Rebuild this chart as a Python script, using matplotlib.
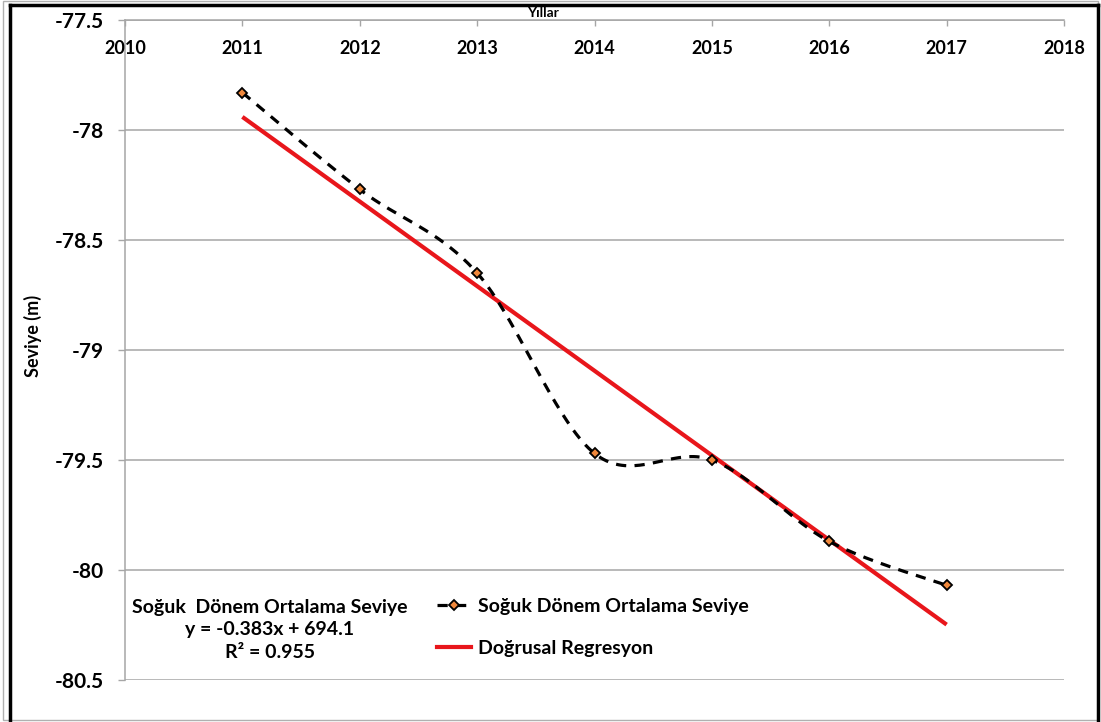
import numpy as np
import matplotlib
matplotlib.use("Agg")
import matplotlib.pyplot as plt
from matplotlib.lines import Line2D
from matplotlib.transforms import blended_transform_factory

# Cold-period mean water level by year
years = [2011, 2012, 2013, 2014, 2015, 2016, 2017]
levels = [-77.83, -78.27, -78.65, -79.47, -79.50, -79.87, -80.07]

x_ticks = [2010, 2011, 2012, 2013, 2014, 2015, 2016, 2017, 2018]
y_ticks = [-77.5, -78, -78.5, -79, -79.5, -80, -80.5]

series_label = "Soğuk Dönem Ortalama Seviye"
fit_label = "Doğrusal Regresyon"
eq_lines = ["Soğuk  Dönem Ortalama Seviye", "y = -0.383x + 694.1", "R² = 0.955"]

W, H = 1101, 722
plt.rcParams['font.family'] = ['Lato', 'DejaVu Sans']
plt.rcParams['font.weight'] = 'bold'

fig = plt.figure(figsize=(W / 100, H / 100), dpi=100)
fig.patch.set_facecolor('white')


def fx(px):
    return px / W


def fy(py):
    return 1 - py / H


# Figure frame: thin grey outline with heavy black border inside it
fig.add_artist(plt.Rectangle((fx(3), fy(720)), fx(1098) - fx(3), fy(1) - fy(720),
                             fill=False, ec='#b0b0b0', lw=1, transform=fig.transFigure))
for xs, ys in [((10, 10), (5, 722)), ((10, 1098), (5, 5)), ((1098, 1098), (5, 722))]:
    fig.add_artist(Line2D([fx(xs[0]), fx(xs[1])], [fy(ys[0]), fy(ys[1])],
                          color='black', lw=2.5, transform=fig.transFigure))

left, right, top, bottom = 125, 1064, 20, 680
ax = fig.add_axes([fx(left), fy(bottom), fx(right) - fx(left), fy(top) - fy(bottom)])
ax.set_xlim(x_ticks[0], x_ticks[-1])
ax.set_ylim(y_ticks[-1], y_ticks[0])

grid_c = '#a6a6a6'
for v in y_ticks:
    ax.axhline(v, color=grid_c, lw=1.1, zorder=1)

for s in ['right', 'bottom']:
    ax.spines[s].set_visible(False)
for s in ['left', 'top']:
    ax.spines[s].set_color(grid_c)
    ax.spines[s].set_linewidth(1.1)

ax.set_yticks(y_ticks)
ax.set_yticklabels([f"{v:g}" for v in y_ticks])
ax.tick_params(axis='y', direction='out', length=5, width=1, color=grid_c,
               pad=10, labelsize=15)
ax.xaxis.tick_top()
ax.set_xticks(x_ticks)
ax.set_xticklabels([])
ax.tick_params(axis='x', direction='in', length=4.5, width=1, color=grid_c)

trans = blended_transform_factory(ax.transData, ax.transAxes)
for t in x_ticks:
    ax.text(t, 1 - 28 / (bottom - top), str(t), transform=trans, ha='center',
            va='center', fontsize=13, fontweight='bold')

fig.text(fx(543), fy(13), "Yıllar", ha='center', va='center', fontsize=10,
         fontweight='bold')
fig.text(fx(33), fy(336), "Seviye (m)", rotation=90, ha='center', va='center',
         fontsize=13, fontweight='bold')

# Smoothed curve through the points (Catmull-Rom style cubic Bezier)
px = np.array(years, dtype=float)
py = np.array(levels, dtype=float)
n = len(px)
cx, cy = [], []
t = np.linspace(0, 1, 40)
for i in range(n - 1):
    p0 = i - 1 if i > 0 else i
    p3 = i + 2 if i + 2 < n else i + 1
    b0 = np.array([px[i], py[i]])
    b3 = np.array([px[i + 1], py[i + 1]])
    b1 = b0 + (np.array([px[i + 1], py[i + 1]]) - np.array([px[p0], py[p0]])) / 6
    b2 = b3 - (np.array([px[p3], py[p3]]) - np.array([px[i], py[i]])) / 6
    seg = ((1 - t) ** 3)[:, None] * b0 + (3 * (1 - t) ** 2 * t)[:, None] * b1 \
        + (3 * (1 - t) * t ** 2)[:, None] * b2 + (t ** 3)[:, None] * b3
    cx.extend(seg[:, 0])
    cy.extend(seg[:, 1])

dash = dict(color='black', lw=2.3, ls=(0, (3.2, 2.6)))
ax.plot(cx, cy, zorder=3, **dash)
mk = dict(marker='D', ms=5, mfc='#f0883c', mec='black', mew=1.3)
ax.plot(years, levels, ls='none', zorder=4, **mk)

# Linear regression line
slope, intercept = np.polyfit(px, py, 1)
fit_x = np.array([years[0], years[-1]])
red = '#e8161b'
ax.plot(fit_x, slope * fit_x + intercept, color=red, lw=3, zorder=2,
        solid_capstyle='butt')

handles = [Line2D([], [], **dash, **mk), Line2D([], [], color=red, lw=3)]
fig.legend(handles, [series_label, fit_label], loc='upper left',
           bbox_to_anchor=(fx(437), fy(598)), frameon=False, fontsize=14,
           handlelength=1.75, handletextpad=0.35, labelspacing=1.3, borderpad=0,
           borderaxespad=0, markerscale=1.0)

for i, line in enumerate(eq_lines):
    fig.text(fx(270), fy(607 + 23 * i), line, ha='center', va='center',
             fontsize=14, fontweight='bold')

fig.savefig("out.png", dpi=100, facecolor='white')
